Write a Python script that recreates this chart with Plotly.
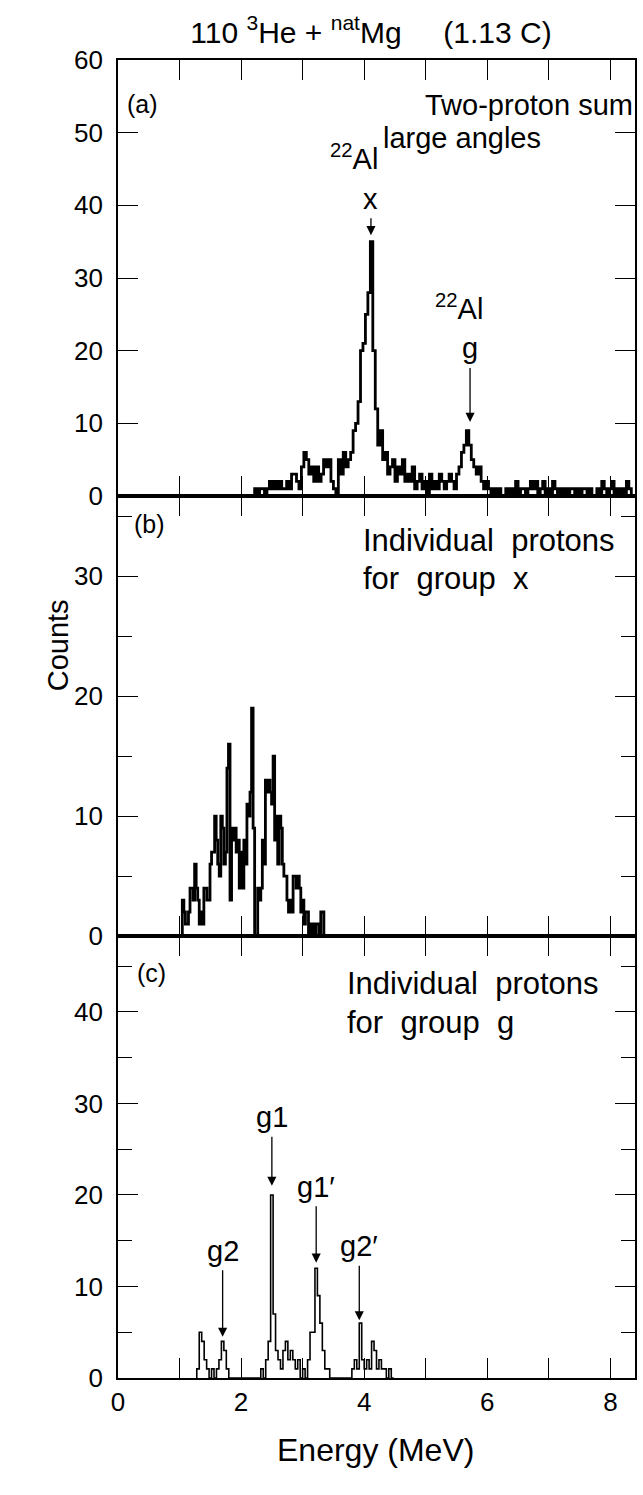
import numpy as np
import plotly.graph_objects as go
from plotly.subplots import make_subplots

# ---------------- data (counts per bin) ----------------
# Panel (a): two-proton sum, large angles
a_start = 2.18
a_width = 0.04
a_counts = [0, 1, 0, 1, 1, 0, 1, 2, 1, 2, 1, 2, 1, 1, 2, 1, 3, 3, 2, 1,
            4, 6, 5, 3, 4, 2, 4, 2, 3, 5, 4, 5, 2, 1, 0, 5, 3, 6, 4, 5,
            6, 9, 10, 13, 20, 21, 25, 28, 35, 20, 12, 7, 9, 5, 6, 3, 4, 5, 2, 4,
            3, 5, 2, 3, 2, 4, 1, 2, 3, 1, 2, 0, 3, 1, 2, 1, 3, 2, 1, 2,
            3, 2, 1, 3, 4, 6, 7, 9, 7, 5, 4, 3, 4, 2, 1, 2, 1, 0, 1, 0,
            1, 0, 0, 1, 0, 1, 0, 2, 0, 1, 1, 0, 1, 2, 1, 2, 0, 1, 2, 0,
            1, 0, 2, 1, 0, 1, 0, 1, 0, 1, 1, 0, 1, 0, 1, 1, 0, 1, 0, 0,
            1, 0, 2, 1, 0, 1, 2, 0, 1, 0, 1, 0, 2, 1, 0]

# Panel (b): individual protons for group x
b_start = 1.02
b_width = 0.025
b_counts = [0, 3, 2, 1, 1, 2, 4, 4, 3, 6, 4, 3, 1, 2, 1, 4, 4, 3, 3, 6,
            7, 7, 10, 8, 6, 5, 10, 9, 6, 7, 14, 16, 3, 9, 8, 9, 7, 8, 4, 7,
            4, 8, 6, 11, 10, 12, 19, 9, 0, 0, 4, 3, 4, 8, 6, 13, 12, 13, 12, 11,
            15, 8, 10, 6, 10, 9, 6, 5, 5, 3, 2, 3, 2, 5, 5, 4, 5, 4, 2, 3,
            1, 2, 2, 0, 1, 0, 1, 0, 1, 1, 0, 2, 2, 0]

# Panel (c): individual protons for group g
c_start = 1.28
c_width = 0.04
c_counts = [1, 5, 4, 2, 1, 0, 1, 0, 1, 2, 4, 3, 1, 0, 0, 0, 0, 0, 0, 0,
            0, 0, 0, 0, 0, 0, 1, 0, 2, 4, 20, 7, 3, 2, 1, 3, 4, 2, 3, 2,
            1, 2, 0, 1, 0, 2, 5, 5, 12, 9, 6, 3, 1, 1, 0, 0, 0, 0, 0, 0,
            0, 0, 0, 1, 2, 1, 6, 2, 1, 2, 1, 4, 3, 1, 2, 1, 1, 0, 1, 0]

x_major = [0, 2, 4, 6, 8]
x_minor = [1, 3, 5, 7]

FONT = "Liberation Sans, Arial, Helvetica, sans-serif"
NB = "\u00a0"

W, H = 643, 1495
ML, MR, MT, MB = 118, 6, 60, 117


def hist_xy(start, width, counts):
    edges = start + width * np.arange(len(counts) + 1)
    xs = [edges[0]] + list(edges)
    ys = [0] + list(counts) + [0]
    return xs, ys


fig = make_subplots(rows=3, cols=1, shared_xaxes=True, vertical_spacing=0,
                    row_heights=[436, 440, 442])

for row, (s, w, c, lw) in enumerate([(a_start, a_width, a_counts, 2.8),
                                     (b_start, b_width, b_counts, 2.8),
                                     (c_start, c_width, c_counts, 1.6)], start=1):
    xs, ys = hist_xy(s, w, c)
    fig.add_trace(go.Scatter(x=xs, y=ys, mode="lines", line_shape="hv",
                             line=dict(color="black", width=lw),
                             hoverinfo="skip", showlegend=False), row=row, col=1)

axis_common = dict(showline=True, linecolor="black", linewidth=1.6,
                   mirror="allticks", ticks="inside", tickcolor="black",
                   tickwidth=1.3, showgrid=False, zeroline=False,
                   tickfont=dict(family=FONT, size=26, color="black"))

for r in (1, 2, 3):
    fig.update_xaxes(range=[0.0, 8.4], tickvals=x_major, ticklen=20,
                     minor=dict(tickvals=x_minor, ticks="inside", ticklen=20,
                                tickcolor="black", tickwidth=1.3, showgrid=False),
                     row=r, col=1, **axis_common)

minor_y = dict(ticks="inside", ticklen=14, tickcolor="black", tickwidth=1.3,
               showgrid=False)
fig.update_yaxes(range=[0, 60], tickvals=[0, 10, 20, 30, 40, 50, 60], ticklen=20,
                 ticklabelstandoff=8, row=1, col=1, **axis_common)
fig.update_yaxes(range=[0, 36.7], tickvals=[0, 10, 20, 30], ticklen=20,
                 ticklabelstandoff=8,
                 minor=dict(tickvals=[5, 15, 25, 35], **minor_y),
                 row=2, col=1, **axis_common)
fig.update_yaxes(range=[0, 48.3], tickvals=[0, 10, 20, 30, 40], ticklen=20,
                 ticklabelstandoff=8,
                 minor=dict(tickvals=[5, 15, 25, 35, 45], **minor_y),
                 row=3, col=1, **axis_common)

ann = []


def txt(x, y, t, xref, yref, size=29, xanchor="center", yanchor="middle"):
    ann.append(dict(x=x, y=y, xref=xref, yref=yref, text=t, showarrow=False,
                    xanchor=xanchor, yanchor=yanchor,
                    font=dict(family=FONT, size=size, color="black")))


def label_arrow(x, y_tip, y_text, t, xref, yref, size=29):
    # label sits at the arrow tail, arrow points down to the peak
    ann.append(dict(x=x, y=y_tip, ax=x, ay=y_text, xref=xref, yref=yref,
                    axref=xref, ayref=yref, text=t, showarrow=True,
                    arrowhead=2, arrowsize=1.4, arrowwidth=1.3,
                    arrowcolor="black", standoff=0, startstandoff=2,
                    font=dict(family=FONT, size=size, color="black")))


# panel (a)
txt(0.12, 53.9, "(a)", "x", "y", size=25, xanchor="left")
txt(4.95, 53.8, "Two-proton" + NB + "sum", "x", "y", xanchor="left")
txt(4.27, 49.3, "large" + NB + "angles", "x", "y", xanchor="left")
txt(4.25, 43.9, "<sup>22</sup>Al", "x", "y", xanchor="right", yanchor="bottom")
label_arrow(4.11, 35.9, 40.9, "x", "x", "y")
txt(5.97, 23.3, "<sup>22</sup>Al", "x", "y", xanchor="right", yanchor="bottom")
label_arrow(5.72, 10.2, 20.3, "g", "x", "y")

# panel (b)
txt(0.22, 34.4, "(b)", "x2", "y2", size=25, xanchor="left")
txt(3.95, 33.0, "Individual" + NB + NB + "protons", "x2", "y2", size=31, xanchor="left")
txt(3.95, 29.8, "for" + NB + NB + "group" + NB + NB + "x", "x2", "y2", size=31, xanchor="left")

# panel (c)
txt(0.28, 44.3, "(c)", "x3", "y3", size=25, xanchor="left")
txt(3.68, 43.1, "Individual" + NB + NB + "protons", "x3", "y3", size=31, xanchor="left")
txt(3.68, 38.8, "for" + NB + NB + "group" + NB + NB + "g", "x3", "y3", size=31, xanchor="left")
label_arrow(2.50, 21.0, 28.5, "g1", "x3", "y3")
label_arrow(3.22, 12.6, 20.9, "g1\u2032", "x3", "y3")
label_arrow(1.70, 4.5, 13.9, "g2", "x3", "y3")
label_arrow(3.92, 6.3, 14.4, "g2\u2032", "x3", "y3")

PW = W - ML - MR
PH = H - MT - MB
# axis titles (paper coords derived from pixel positions)
ann.append(dict(x=(40 - ML) / PW, y=(H - MB - 645) / PH, xref="paper", yref="paper",
                text="Counts", showarrow=False, textangle=-90,
                font=dict(family=FONT, size=29, color="black")))
ann.append(dict(x=(376 - ML) / PW, y=(H - MB - 1470) / PH, xref="paper", yref="paper",
                text="Energy (MeV)", showarrow=False,
                font=dict(family=FONT, size=32, color="black")))

fig.update_layout(
    width=W, height=H,
    margin=dict(l=ML, r=MR, t=MT, b=MB),
    paper_bgcolor="white", plot_bgcolor="white",
    annotations=ann,
    title=dict(text="110 <sup>3</sup>He + <sup>nat</sup>Mg" + NB * 5 + "(1.13 C)",
               x=371 / W, xanchor="center", xref="container",
               y=1 - 32 / H, yanchor="middle", yref="container",
               font=dict(family=FONT, size=30, color="black")),
)

fig.write_html("out.html")
